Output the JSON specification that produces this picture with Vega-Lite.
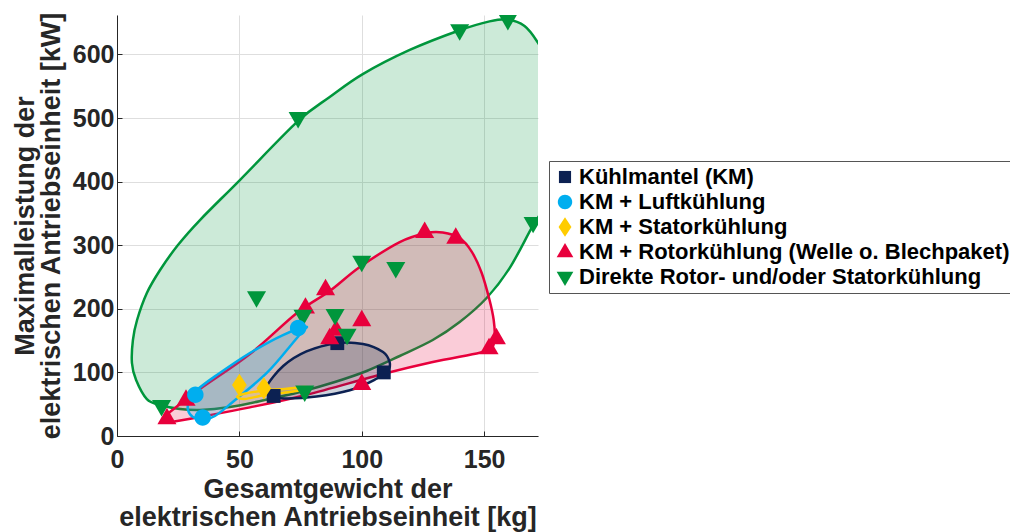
{
  "$schema": "https://vega.github.io/schema/vega-lite/v6.json",
  "width": 421,
  "height": 421,
  "autosize": {"type": "none"},
  "padding": {"left": 117, "top": 15, "right": 472, "bottom": 96},
  "background": "white",
  "config": {
    "view": {"stroke": null},
    "font": "Liberation Sans",
    "axis": {
      "labelFont": "Liberation Sans",
      "labelFontSize": 25,
      "labelFontWeight": "bold",
      "labelColor": "#262626",
      "labelFlush": false,
      "titleFont": "Liberation Sans",
      "titleFontSize": 27,
      "titleFontWeight": "bold",
      "titleColor": "#262626",
      "grid": true,
      "gridColor": "#dedede",
      "gridWidth": 1,
      "domainColor": "#262626",
      "domainWidth": 1,
      "tickColor": "#262626",
      "tickSize": -5,
      "labelPadding": 8
    },
    "legend": {
      "orient": "none",
      "legendX": 432,
      "legendY": 146,
      "strokeColor": "#555555",
      "fillColor": "white",
      "padding": 5,
      "labelFont": "Liberation Sans",
      "labelFontSize": 22,
      "labelFontWeight": "bold",
      "labelColor": "black",
      "labelLimit": 600,
      "symbolSize": 230,
      "rowPadding": 3,
      "labelOffset": 3
    }
  },
  "datasets": {
    "pts": [
      {"series": "Kühlmantel (KM)", "x": 64, "y": 63},
      {"series": "Kühlmantel (KM)", "x": 109, "y": 100},
      {"series": "Kühlmantel (KM)", "x": 90, "y": 146},
      {"series": "KM + Rotorkühlung (Welle o. Blechpaket)", "x": 20.4, "y": 28},
      {"series": "KM + Rotorkühlung (Welle o. Blechpaket)", "x": 28.2, "y": 57},
      {"series": "KM + Rotorkühlung (Welle o. Blechpaket)", "x": 77, "y": 202},
      {"series": "KM + Rotorkühlung (Welle o. Blechpaket)", "x": 85.2, "y": 231},
      {"series": "KM + Rotorkühlung (Welle o. Blechpaket)", "x": 86.9, "y": 154},
      {"series": "KM + Rotorkühlung (Welle o. Blechpaket)", "x": 89.5, "y": 167},
      {"series": "KM + Rotorkühlung (Welle o. Blechpaket)", "x": 100, "y": 182},
      {"series": "KM + Rotorkühlung (Welle o. Blechpaket)", "x": 100, "y": 82},
      {"series": "KM + Rotorkühlung (Welle o. Blechpaket)", "x": 125.7, "y": 321},
      {"series": "KM + Rotorkühlung (Welle o. Blechpaket)", "x": 138.4, "y": 312},
      {"series": "KM + Rotorkühlung (Welle o. Blechpaket)", "x": 155, "y": 154},
      {"series": "KM + Rotorkühlung (Welle o. Blechpaket)", "x": 152, "y": 138},
      {"series": "Direkte Rotor- und/oder Statorkühlung", "x": 18.2, "y": 47},
      {"series": "Direkte Rotor- und/oder Statorkühlung", "x": 57, "y": 218},
      {"series": "Direkte Rotor- und/oder Statorkühlung", "x": 74, "y": 500},
      {"series": "Direkte Rotor- und/oder Statorkühlung", "x": 76, "y": 189},
      {"series": "Direkte Rotor- und/oder Statorkühlung", "x": 76.7, "y": 70},
      {"series": "Direkte Rotor- und/oder Statorkühlung", "x": 89.1, "y": 190},
      {"series": "Direkte Rotor- und/oder Statorkühlung", "x": 94, "y": 159},
      {"series": "Direkte Rotor- und/oder Statorkühlung", "x": 100, "y": 274},
      {"series": "Direkte Rotor- und/oder Statorkühlung", "x": 113.9, "y": 264},
      {"series": "Direkte Rotor- und/oder Statorkühlung", "x": 140, "y": 638},
      {"series": "Direkte Rotor- und/oder Statorkühlung", "x": 159.7, "y": 654},
      {"series": "Direkte Rotor- und/oder Statorkühlung", "x": 170, "y": 335},
      {"series": "KM + Luftkühlung", "x": 32, "y": 65},
      {"series": "KM + Luftkühlung", "x": 35, "y": 29},
      {"series": "KM + Luftkühlung", "x": 74, "y": 170},
      {"series": "KM + Statorkühlung", "x": 50, "y": 80},
      {"series": "KM + Statorkühlung", "x": 60, "y": 75}
    ],
    "outline": [
      {"s": "D", "i": 1, "x": 6.1, "y": 114.8},
      {"s": "D", "i": 2, "x": 6.5, "y": 150.9},
      {"s": "D", "i": 3, "x": 8.2, "y": 182.4},
      {"s": "D", "i": 4, "x": 12.2, "y": 224.8},
      {"s": "D", "i": 5, "x": 17.6, "y": 261},
      {"s": "D", "i": 6, "x": 24.9, "y": 300.3},
      {"s": "D", "i": 7, "x": 33.9, "y": 339.6},
      {"s": "D", "i": 8, "x": 50.2, "y": 402.5},
      {"s": "D", "i": 9, "x": 73.9, "y": 495},
      {"s": "D", "i": 10, "x": 86.9, "y": 533},
      {"s": "D", "i": 11, "x": 100.4, "y": 569},
      {"s": "D", "i": 12, "x": 119.6, "y": 607},
      {"s": "D", "i": 13, "x": 140, "y": 638},
      {"s": "D", "i": 14, "x": 152.2, "y": 652},
      {"s": "D", "i": 15, "x": 159.6, "y": 655},
      {"s": "D", "i": 16, "x": 166.5, "y": 644.7},
      {"s": "D", "i": 17, "x": 171.8, "y": 619.5},
      {"s": "D", "i": 18, "x": 176.7, "y": 583},
      {"s": "D", "i": 19, "x": 180, "y": 528},
      {"s": "D", "i": 20, "x": 180.8, "y": 465},
      {"s": "D", "i": 21, "x": 178.8, "y": 402},
      {"s": "D", "i": 22, "x": 175.5, "y": 365},
      {"s": "D", "i": 23, "x": 169.8, "y": 330},
      {"s": "D", "i": 24, "x": 160.4, "y": 264},
      {"s": "D", "i": 25, "x": 151, "y": 217},
      {"s": "D", "i": 26, "x": 140, "y": 179.2},
      {"s": "D", "i": 27, "x": 129, "y": 150.9},
      {"s": "D", "i": 28, "x": 115.5, "y": 125.8},
      {"s": "D", "i": 29, "x": 102, "y": 102.2},
      {"s": "D", "i": 30, "x": 89, "y": 84.9},
      {"s": "D", "i": 31, "x": 74.7, "y": 69.2},
      {"s": "D", "i": 32, "x": 60.4, "y": 56.6},
      {"s": "D", "i": 33, "x": 46.1, "y": 45.6},
      {"s": "D", "i": 34, "x": 33.9, "y": 40.9},
      {"s": "D", "i": 35, "x": 25.7, "y": 42.5},
      {"s": "D", "i": 36, "x": 17.6, "y": 48.7},
      {"s": "D", "i": 37, "x": 12.2, "y": 58},
      {"s": "D", "i": 38, "x": 7.8, "y": 88},
      {"s": "R", "i": 1, "x": 18.8, "y": 26.7},
      {"s": "R", "i": 2, "x": 21.6, "y": 37.7},
      {"s": "R", "i": 3, "x": 33.9, "y": 73.9},
      {"s": "R", "i": 4, "x": 54.3, "y": 128.9},
      {"s": "R", "i": 5, "x": 73.5, "y": 193.4},
      {"s": "R", "i": 6, "x": 86.9, "y": 228},
      {"s": "R", "i": 7, "x": 99.2, "y": 265.7},
      {"s": "R", "i": 8, "x": 115.5, "y": 305},
      {"s": "R", "i": 9, "x": 126.5, "y": 319.2},
      {"s": "R", "i": 10, "x": 133.1, "y": 320},
      {"s": "R", "i": 11, "x": 140, "y": 311.3},
      {"s": "R", "i": 12, "x": 144.9, "y": 290},
      {"s": "R", "i": 13, "x": 149, "y": 256.3},
      {"s": "R", "i": 14, "x": 152.2, "y": 213.8},
      {"s": "R", "i": 15, "x": 153.9, "y": 182.4},
      {"s": "R", "i": 16, "x": 154.3, "y": 155.7},
      {"s": "R", "i": 17, "x": 153.1, "y": 138},
      {"s": "R", "i": 18, "x": 148.2, "y": 131},
      {"s": "R", "i": 19, "x": 129, "y": 116.4},
      {"s": "R", "i": 20, "x": 108.6, "y": 97.5},
      {"s": "R", "i": 21, "x": 77.6, "y": 65},
      {"s": "R", "i": 22, "x": 54.3, "y": 45},
      {"s": "R", "i": 23, "x": 33.9, "y": 30},
      {"s": "R", "i": 24, "x": 21.6, "y": 22},
      {"s": "K", "i": 1, "x": 61.1, "y": 77.5},
      {"s": "K", "i": 2, "x": 67.9, "y": 110},
      {"s": "K", "i": 3, "x": 77.4, "y": 133},
      {"s": "K", "i": 4, "x": 89.7, "y": 146},
      {"s": "K", "i": 5, "x": 100.5, "y": 144.7},
      {"s": "K", "i": 6, "x": 108.7, "y": 132},
      {"s": "K", "i": 7, "x": 111.4, "y": 116},
      {"s": "K", "i": 8, "x": 110.7, "y": 103.8},
      {"s": "K", "i": 9, "x": 105, "y": 88},
      {"s": "K", "i": 10, "x": 95.1, "y": 72},
      {"s": "K", "i": 11, "x": 81.5, "y": 62},
      {"s": "K", "i": 12, "x": 68.5, "y": 59},
      {"s": "K", "i": 13, "x": 62.4, "y": 64},
      {"s": "L", "i": 1, "x": 77.1, "y": 171.4},
      {"s": "L", "i": 2, "x": 67.8, "y": 158.8},
      {"s": "L", "i": 3, "x": 54.3, "y": 130.5},
      {"s": "L", "i": 4, "x": 40.8, "y": 95.9},
      {"s": "L", "i": 5, "x": 32.7, "y": 72.3},
      {"s": "L", "i": 6, "x": 29.4, "y": 53.5},
      {"s": "L", "i": 7, "x": 29.0, "y": 40.9},
      {"s": "L", "i": 8, "x": 31.0, "y": 29.9},
      {"s": "L", "i": 9, "x": 35.1, "y": 25.2},
      {"s": "L", "i": 10, "x": 40.0, "y": 31.4},
      {"s": "L", "i": 11, "x": 47.3, "y": 53.5},
      {"s": "L", "i": 12, "x": 61.2, "y": 99.1},
      {"s": "L", "i": 13, "x": 71.8, "y": 146.2},
      {"s": "L", "i": 14, "x": 75.9, "y": 165.1},
      {"s": "S", "i": 1, "x": 49.4, "y": 62.9},
      {"s": "S", "i": 2, "x": 58.4, "y": 70.8},
      {"s": "S", "i": 3, "x": 68.6, "y": 73.9},
      {"s": "S", "i": 4, "x": 76.7, "y": 77},
      {"s": "S", "i": 5, "x": 77.6, "y": 73.9},
      {"s": "S", "i": 6, "x": 70.6, "y": 69.2},
      {"s": "S", "i": 7, "x": 60.4, "y": 64.5},
      {"s": "S", "i": 8, "x": 52.2, "y": 58.2}
    ]
  },
  "encoding": {
    "x": {
      "field": "x",
      "type": "quantitative",
      "scale": {"domain": [0, 172], "nice": false, "zero": false},
      "axis": {"values": [0, 50, 100, 150], "labelPadding": 16, "titleLineHeight": 28, "titlePadding": 4, "title": ["Gesamtgewicht der", "elektrischen Antriebseinheit [kg]"]}
    },
    "y": {
      "field": "y",
      "type": "quantitative",
      "scale": {"domain": [0, 662], "nice": false, "zero": false},
      "axis": {"values": [0, 100, 200, 300, 400, 500, 600], "titleLineHeight": 26, "titlePadding": 7, "title": ["Maximalleistung der", "elektrischen Antriebseinheit [kW]"]}
    }
  },
  "layer": [
    {
      "data": {"name": "outline"},
      "transform": [{"filter": "datum.s == 'D'"}],
      "mark": {"type": "line", "interpolate": "cardinal-closed", "fill": "#00963c", "fillOpacity": 0.2, "stroke": "#00963c", "strokeWidth": 2.5, "clip": true},
      "encoding": {"order": {"field": "i", "type": "quantitative"}}
    },
    {
      "data": {"name": "outline"},
      "transform": [{"filter": "datum.s == 'R'"}],
      "mark": {"type": "line", "interpolate": "cardinal-closed", "fill": "#e8003c", "fillOpacity": 0.2, "stroke": "#e8003c", "strokeWidth": 2.5, "clip": true},
      "encoding": {"order": {"field": "i", "type": "quantitative"}}
    },
    {
      "data": {"name": "outline"},
      "transform": [{"filter": "datum.s == 'K'"}],
      "mark": {"type": "line", "interpolate": "cardinal-closed", "fill": "#0c2152", "fillOpacity": 0.2, "stroke": "#0c2152", "strokeWidth": 2.5, "clip": true},
      "encoding": {"order": {"field": "i", "type": "quantitative"}}
    },
    {
      "data": {"name": "outline"},
      "transform": [{"filter": "datum.s == 'L'"}],
      "mark": {"type": "line", "interpolate": "cardinal-closed", "fill": "#00aeef", "fillOpacity": 0.2, "stroke": "#00aeef", "strokeWidth": 2.5, "clip": true},
      "encoding": {"order": {"field": "i", "type": "quantitative"}}
    },
    {
      "data": {"name": "outline"},
      "transform": [{"filter": "datum.s == 'S'"}],
      "mark": {"type": "line", "interpolate": "cardinal-closed", "fill": "#ffcc00", "fillOpacity": 0.2, "stroke": "#ffcc00", "strokeWidth": 2.5, "clip": true},
      "encoding": {"order": {"field": "i", "type": "quantitative"}}
    },
    {
      "data": {"name": "pts"},
      "mark": {"type": "point", "filled": true, "opacity": 1, "size": 300, "strokeWidth": 0, "clip": true},
      "encoding": {
        "color": {
          "field": "series",
          "type": "nominal",
          "title": null,
          "scale": {
            "domain": ["Kühlmantel (KM)", "KM + Luftkühlung", "KM + Statorkühlung", "KM + Rotorkühlung (Welle o. Blechpaket)", "Direkte Rotor- und/oder Statorkühlung"],
            "range": ["#0c2152", "#00aeef", "#ffcc00", "#e8003c", "#00963c"]
          }
        },
        "shape": {
          "field": "series",
          "type": "nominal",
          "title": null,
          "scale": {
            "domain": ["Kühlmantel (KM)", "KM + Luftkühlung", "KM + Statorkühlung", "KM + Rotorkühlung (Welle o. Blechpaket)", "Direkte Rotor- und/oder Statorkühlung"],
            "range": [
              "M-0.8,-0.8L0.8,-0.8L0.8,0.8L-0.8,0.8Z",
              "M-0.95,0A0.95,0.95 0 1,0 0.95,0A0.95,0.95 0 1,0 -0.95,0Z",
              "M0,-1.3L0.85,0L0,1.3L-0.85,0Z",
              "M0,-1.2L1.1,0.7L-1.1,0.7Z",
              "M0,1.2L1.1,-0.7L-1.1,-0.7Z"
            ]
          }
        }
      }
    }
  ]
}
